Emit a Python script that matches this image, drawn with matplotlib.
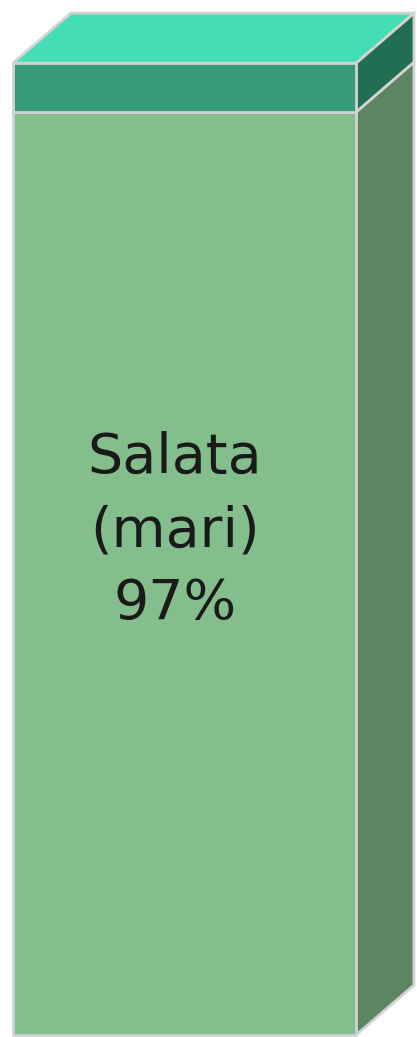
import matplotlib
matplotlib.use("Agg")
import matplotlib.pyplot as plt
from matplotlib.patches import Polygon

# Data
categories = ["Salata (mari)", "Altele"]
values = [97, 3]
labels = ["Salata\n(mari)\n97%", ""]
front_colors = ["#84BE8C", "#349A7A"]
side_colors = ["#5C8662", "#226E52"]
top_color = "#44DDB5"
edge_color = "#D2D2D2"

# Layout parameters
axis_min = 40.5
bar_width = 1.0
depth_x = 0.169
depth_y = 3.06

fig = plt.figure(figsize=(4.17, 10.37), dpi=100)
ax = fig.add_axes([0, 0, 1, 1])
ax.set_xlim(-0.5379, 0.6778)
ax.set_ylim(40.38, 103.86)
ax.axis("off")

x0 = -bar_width / 2
x1 = bar_width / 2
bottom = axis_min
for i, v in enumerate(values):
    b = bottom
    h = v - (axis_min if i == 0 else 0)
    ax.bar(0, h, bottom=b, width=bar_width, color=front_colors[i],
           edgecolor=edge_color, linewidth=2, zorder=2)
    side = Polygon([(x1, b), (x1 + depth_x, b + depth_y),
                    (x1 + depth_x, b + h + depth_y), (x1, b + h)],
                   closed=True, facecolor=side_colors[i],
                   edgecolor=edge_color, linewidth=2, zorder=1)
    ax.add_patch(side)
    if labels[i]:
        ax.text(-0.0275, b + h * 0.5 + 2.6, labels[i], ha="center", va="center",
                fontsize=40, color="#1a1a1a", linespacing=1.45,
                family="DejaVu Sans", zorder=3)
    bottom = b + h

top = Polygon([(x0, bottom), (x0 + depth_x, bottom + depth_y),
               (x1 + depth_x, bottom + depth_y), (x1, bottom)],
              closed=True, facecolor=top_color, edgecolor=edge_color,
              linewidth=2, zorder=1)
ax.add_patch(top)

fig.savefig("out.png", dpi=100, facecolor="white")
